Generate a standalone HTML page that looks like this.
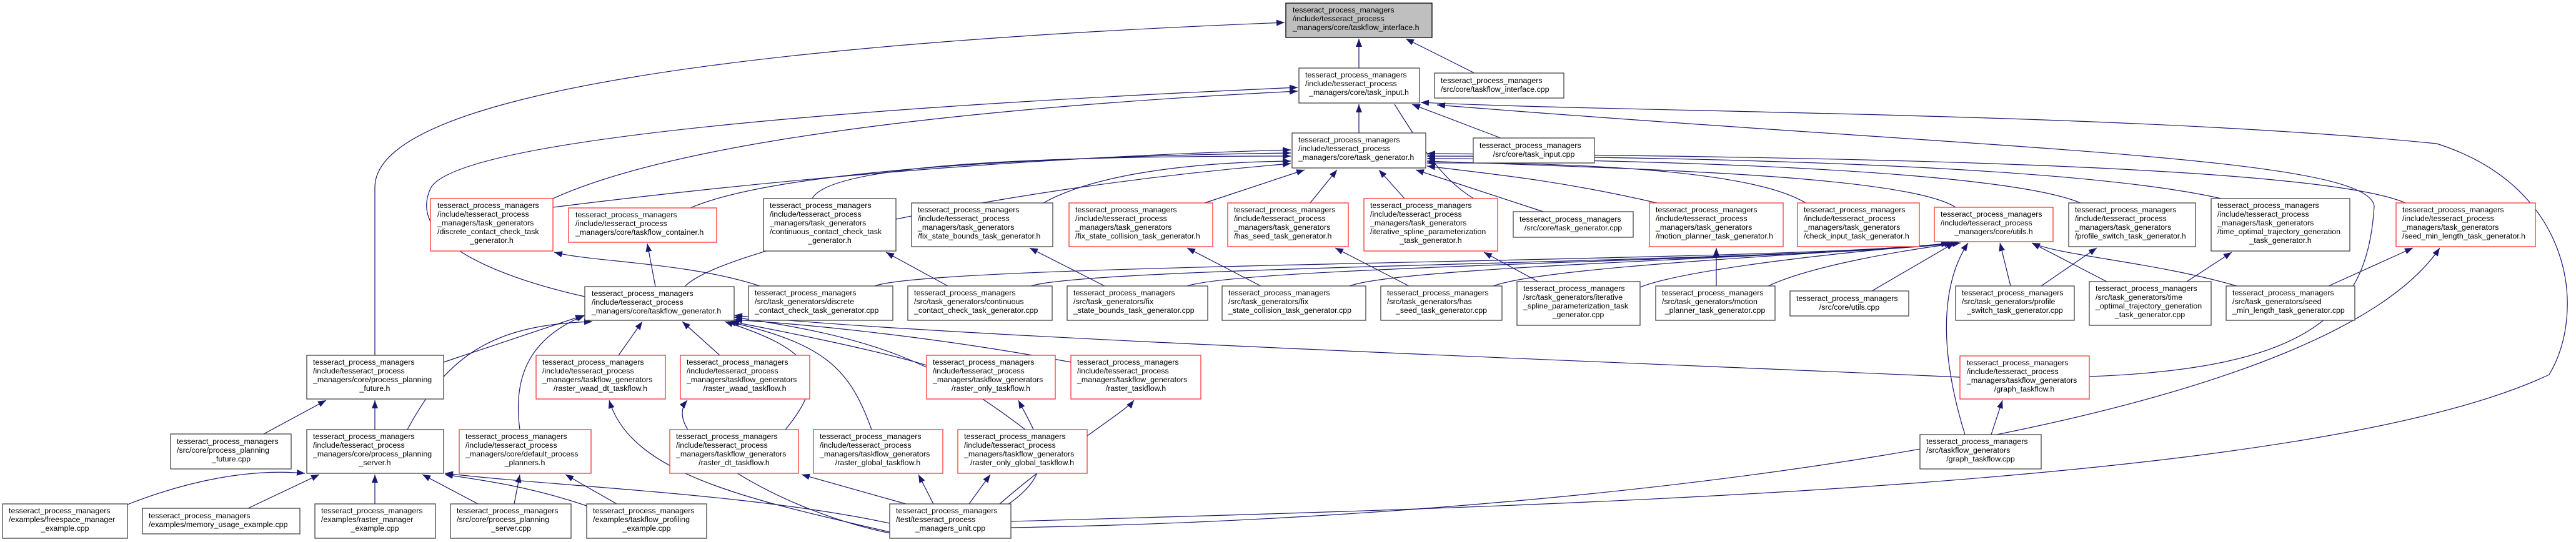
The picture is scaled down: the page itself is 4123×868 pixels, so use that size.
<!DOCTYPE html>
<html><head><meta charset="utf-8"><style>
html,body{margin:0;padding:0;background:#fff;}
svg{display:block;}
text{font-family:"Liberation Sans",sans-serif;font-size:12.4px;fill:#000;}
.n rect{fill:#fff;stroke-width:1.3;}
.k rect{stroke:#444;}
.r rect{stroke:#f33;}
.e path{fill:none;stroke:#191970;stroke-width:1.2;}
</style></head><body>
<svg width="4123" height="868" viewBox="0 0 4123 868" xmlns="http://www.w3.org/2000/svg">
<defs><marker id="a" markerUnits="userSpaceOnUse" markerWidth="14" markerHeight="10" refX="13" refY="5" orient="auto"><path d="M0,0 L13,5 L0,10 z" fill="#191970"/></marker></defs>
<g class="e" marker-end="url(#a)">
<path d="M2175,109 L2175,62"/>
<path d="M2360,117 L2250,62"/>
<path d="M600,569 L600,300 C600,150 1200,70 2056,36"/>
<path d="M2175,213 L2175,167"/>
<path d="M2402,221 L2260,167"/>
<path d="M936,475 C780,440 650,380 690,300 C740,220 1400,170 2077,140"/>
<path d="M885,318 C1100,220 1600,170 2077,146"/>
<path d="M1618,835 C2500,810 3700,780 4080,600 C4140,500 4120,300 3900,230 C3400,180 2600,180 2274,164"/>
<path d="M3344,603 C3700,590 3790,500 3800,330 C3790,250 3200,240 2300,168"/>
<path d="M2232,167 C2290,260 2320,300 2380,330"/>
<path d="M885,332 C1300,280 1700,250 2066,240"/>
<path d="M1105,333 C1250,270 1700,250 2066,245"/>
<path d="M1300,318 C1330,260 1700,250 2066,250"/>
<path d="M1670,325 C1750,280 1900,260 2066,258"/>
<path d="M1928,325 L2088,272"/>
<path d="M2097,325 L2140,272"/>
<path d="M2248,318 L2207,272"/>
<path d="M2470,339 L2266,272"/>
<path d="M2652,325 C2500,290 2400,280 2284,266"/>
<path d="M2890,325 C2800,270 2500,260 2284,261"/>
<path d="M3130,332 C3050,280 2600,270 2284,258"/>
<path d="M3330,325 C3200,270 2600,255 2284,254"/>
<path d="M3555,318 C3300,260 2600,250 2284,250"/>
<path d="M3850,325 C3700,260 2800,250 2284,246"/>
<path d="M1096,459 C1150,400 1600,300 2066,262"/>
<path d="M1049,459 L1036,390"/>
<path d="M1216,458 C1100,420 950,420 887,404"/>
<path d="M1517,458 L1418,404"/>
<path d="M1768,458 L1648,397"/>
<path d="M2018,458 L1900,397"/>
<path d="M2255,458 L2137,397"/>
<path d="M2462,451 L2375,404"/>
<path d="M2747,458 L2747,397"/>
<path d="M2996,466 L3128,389"/>
<path d="M3267,458 L3356,397"/>
<path d="M3500,451 L3572,404"/>
<path d="M3727,458 L3862,397"/>
<path d="M1400,458 C1500,420 2900,420 3120,389"/>
<path d="M1650,458 C1750,425 2900,420 3125,389"/>
<path d="M1900,458 C2000,425 2950,415 3128,389"/>
<path d="M2160,458 C2250,425 2950,410 3130,389"/>
<path d="M2390,458 C2480,425 2960,405 3132,389"/>
<path d="M2625,460 C2700,430 2980,400 3135,389"/>
<path d="M2830,458 C2900,425 3050,400 3138,389"/>
<path d="M3218,458 L3201,389"/>
<path d="M3372,451 L3252,389"/>
<path d="M3580,458 C3450,420 3300,410 3252,389"/>
<path d="M3145,696 C3100,550 3110,450 3150,389"/>
<path d="M710,580 L934,505"/>
<path d="M652,688 C720,560 800,520 948,515"/>
<path d="M832,688 C820,600 850,540 936,505"/>
<path d="M990,569 L1028,515"/>
<path d="M1152,569 L1092,515"/>
<path d="M1257,688 C1330,600 1300,560 1160,515"/>
<path d="M1395,688 C1360,590 1320,550 1165,515"/>
<path d="M1483,585 C1400,560 1250,530 1170,515"/>
<path d="M1714,580 C1500,540 1300,520 1175,512"/>
<path d="M1641,688 C1500,580 1400,540 1175,508"/>
<path d="M3137,604 C2600,580 1500,540 1175,505"/>
<path d="M422,695 L522,641"/>
<path d="M600,688 L600,641"/>
<path d="M204,808 C300,770 400,750 488,758"/>
<path d="M397,814 L511,760"/>
<path d="M600,807 L600,760"/>
<path d="M765,807 L676,760"/>
<path d="M939,810 C850,780 780,770 712,760"/>
<path d="M1424,838 C1200,790 900,780 712,758"/>
<path d="M823,807 L832,760"/>
<path d="M987,807 L905,760"/>
<path d="M1424,852 C1200,800 1010,760 975,641"/>
<path d="M1430,855 C1250,820 1050,700 1100,641"/>
<path d="M1450,807 L1283,760"/>
<path d="M1494,807 L1470,760"/>
<path d="M1551,807 L1585,760"/>
<path d="M1610,810 C1700,750 1660,700 1630,641"/>
<path d="M1600,807 C1700,720 1800,660 1815,641"/>
<path d="M1618,845 C2500,830 3700,700 3905,397"/>
<path d="M3187,696 L3205,641"/>
</g>
<g class="n" style="fill:#bfbfbf"><rect x="2058" y="5" width="234" height="55" style="fill:#bfbfbf;stroke:#000"/></g>
<g class="n k"><rect x="2079" y="109" width="193" height="56"/></g>
<g class="n k"><rect x="2296" y="117" width="207" height="40"/></g>
<g class="n k"><rect x="2068" y="213" width="214" height="56"/></g>
<g class="n k"><rect x="2358" y="221" width="194" height="40"/></g>
<g class="n r"><rect x="689" y="318" width="196" height="84"/></g>
<g class="n r"><rect x="910" y="333" width="237" height="55"/></g>
<g class="n k"><rect x="1222" y="318" width="212" height="84"/></g>
<g class="n k"><rect x="1459" y="325" width="226" height="70"/></g>
<g class="n r"><rect x="1711" y="325" width="230" height="70"/></g>
<g class="n r"><rect x="1965" y="325" width="193" height="70"/></g>
<g class="n r"><rect x="2183" y="318" width="214" height="84"/></g>
<g class="n k"><rect x="2422" y="339" width="192" height="41"/></g>
<g class="n r"><rect x="2640" y="325" width="214" height="70"/></g>
<g class="n r"><rect x="2877" y="325" width="195" height="70"/></g>
<g class="n r"><rect x="3096" y="332" width="190" height="55"/></g>
<g class="n k"><rect x="3311" y="325" width="203" height="70"/></g>
<g class="n k"><rect x="3539" y="318" width="222" height="84"/></g>
<g class="n r"><rect x="3835" y="325" width="223" height="70"/></g>
<g class="n k"><rect x="936" y="459" width="239" height="54"/></g>
<g class="n k"><rect x="1198" y="458" width="231" height="55"/></g>
<g class="n k"><rect x="1453" y="458" width="231" height="55"/></g>
<g class="n k"><rect x="1708" y="458" width="225" height="55"/></g>
<g class="n k"><rect x="1956" y="458" width="230" height="55"/></g>
<g class="n k"><rect x="2210" y="458" width="194" height="55"/></g>
<g class="n k"><rect x="2428" y="451" width="197" height="70"/></g>
<g class="n k"><rect x="2650" y="458" width="191" height="55"/></g>
<g class="n k"><rect x="2865" y="466" width="190" height="40"/></g>
<g class="n k"><rect x="3130" y="458" width="190" height="55"/></g>
<g class="n k"><rect x="3344" y="451" width="195" height="70"/></g>
<g class="n k"><rect x="3563" y="458" width="206" height="55"/></g>
<g class="n k"><rect x="491" y="569" width="219" height="70"/></g>
<g class="n r"><rect x="858" y="569" width="207" height="70"/></g>
<g class="n r"><rect x="1089" y="569" width="207" height="70"/></g>
<g class="n r"><rect x="1483" y="569" width="206" height="70"/></g>
<g class="n r"><rect x="1714" y="569" width="208" height="70"/></g>
<g class="n r"><rect x="3137" y="570" width="207" height="69"/></g>
<g class="n k"><rect x="273" y="695" width="193" height="56"/></g>
<g class="n k"><rect x="491" y="688" width="219" height="70"/></g>
<g class="n r"><rect x="735" y="688" width="211" height="70"/></g>
<g class="n r"><rect x="1072" y="688" width="206" height="70"/></g>
<g class="n r"><rect x="1302" y="688" width="207" height="70"/></g>
<g class="n r"><rect x="1533" y="688" width="207" height="70"/></g>
<g class="n k"><rect x="3073" y="696" width="194" height="55"/></g>
<g class="n k"><rect x="4" y="807" width="200" height="55"/></g>
<g class="n k"><rect x="228" y="814" width="252" height="41"/></g>
<g class="n k"><rect x="504" y="807" width="193" height="55"/></g>
<g class="n k"><rect x="721" y="807" width="193" height="55"/></g>
<g class="n k"><rect x="939" y="807" width="192" height="55"/></g>
<g class="n k"><rect x="1424" y="807" width="194" height="55"/></g>
<g>
<text x="2069" y="20">tesseract_process_managers</text><text x="2069" y="34">/include/tesseract_process</text><text x="2069" y="48">_managers/core/taskflow_interface.h</text>
<text x="2089" y="124">tesseract_process_managers</text><text x="2089" y="138">/include/tesseract_process</text><text x="2175" y="152" text-anchor="middle">_managers/core/task_input.h</text>
<text x="2306" y="133">tesseract_process_managers</text><text x="2306" y="147">/src/core/taskflow_interface.cpp</text>
<text x="2078" y="228">tesseract_process_managers</text><text x="2078" y="242">/include/tesseract_process</text><text x="2078" y="256">_managers/core/task_generator.h</text>
<text x="2368" y="237">tesseract_process_managers</text><text x="2455" y="251" text-anchor="middle">/src/core/task_input.cpp</text>
<text x="700" y="333">tesseract_process_managers</text><text x="700" y="347">/include/tesseract_process</text><text x="700" y="361">_managers/task_generators</text><text x="700" y="375">/discrete_contact_check_task</text><text x="787" y="389" text-anchor="middle">_generator.h</text>
<text x="921" y="348">tesseract_process_managers</text><text x="921" y="362">/include/tesseract_process</text><text x="921" y="376">_managers/core/taskflow_container.h</text>
<text x="1232" y="333">tesseract_process_managers</text><text x="1232" y="347">/include/tesseract_process</text><text x="1232" y="361">_managers/task_generators</text><text x="1232" y="375">/continuous_contact_check_task</text><text x="1328" y="389" text-anchor="middle">_generator.h</text>
<text x="1469" y="340">tesseract_process_managers</text><text x="1469" y="354">/include/tesseract_process</text><text x="1469" y="368">_managers/task_generators</text><text x="1469" y="382">/fix_state_bounds_task_generator.h</text>
<text x="1721" y="340">tesseract_process_managers</text><text x="1721" y="354">/include/tesseract_process</text><text x="1721" y="368">_managers/task_generators</text><text x="1721" y="382">/fix_state_collision_task_generator.h</text>
<text x="1975" y="340">tesseract_process_managers</text><text x="1975" y="354">/include/tesseract_process</text><text x="1975" y="368">_managers/task_generators</text><text x="1975" y="382">/has_seed_task_generator.h</text>
<text x="2193" y="333">tesseract_process_managers</text><text x="2193" y="347">/include/tesseract_process</text><text x="2193" y="361">_managers/task_generators</text><text x="2193" y="375">/iterative_spline_parameterization</text><text x="2290" y="389" text-anchor="middle">_task_generator.h</text>
<text x="2432" y="355">tesseract_process_managers</text><text x="2518" y="369" text-anchor="middle">/src/core/task_generator.cpp</text>
<text x="2650" y="340">tesseract_process_managers</text><text x="2650" y="354">/include/tesseract_process</text><text x="2650" y="368">_managers/task_generators</text><text x="2650" y="382">/motion_planner_task_generator.h</text>
<text x="2887" y="340">tesseract_process_managers</text><text x="2887" y="354">/include/tesseract_process</text><text x="2887" y="368">_managers/task_generators</text><text x="2887" y="382">/check_input_task_generator.h</text>
<text x="3106" y="347">tesseract_process_managers</text><text x="3106" y="361">/include/tesseract_process</text><text x="3191" y="375" text-anchor="middle">_managers/core/utils.h</text>
<text x="3321" y="340">tesseract_process_managers</text><text x="3321" y="354">/include/tesseract_process</text><text x="3321" y="368">_managers/task_generators</text><text x="3321" y="382">/profile_switch_task_generator.h</text>
<text x="3549" y="333">tesseract_process_managers</text><text x="3549" y="347">/include/tesseract_process</text><text x="3549" y="361">_managers/task_generators</text><text x="3549" y="375">/time_optimal_trajectory_generation</text><text x="3650" y="389" text-anchor="middle">_task_generator.h</text>
<text x="3845" y="340">tesseract_process_managers</text><text x="3845" y="354">/include/tesseract_process</text><text x="3845" y="368">_managers/task_generators</text><text x="3845" y="382">/seed_min_length_task_generator.h</text>
<text x="947" y="474">tesseract_process_managers</text><text x="947" y="488">/include/tesseract_process</text><text x="947" y="502">_managers/core/taskflow_generator.h</text>
<text x="1208" y="473">tesseract_process_managers</text><text x="1208" y="487">/src/task_generators/discrete</text><text x="1208" y="501">_contact_check_task_generator.cpp</text>
<text x="1463" y="473">tesseract_process_managers</text><text x="1463" y="487">/src/task_generators/continuous</text><text x="1463" y="501">_contact_check_task_generator.cpp</text>
<text x="1718" y="473">tesseract_process_managers</text><text x="1718" y="487">/src/task_generators/fix</text><text x="1718" y="501">_state_bounds_task_generator.cpp</text>
<text x="1966" y="473">tesseract_process_managers</text><text x="1966" y="487">/src/task_generators/fix</text><text x="1966" y="501">_state_collision_task_generator.cpp</text>
<text x="2220" y="473">tesseract_process_managers</text><text x="2220" y="487">/src/task_generators/has</text><text x="2307" y="501" text-anchor="middle">_seed_task_generator.cpp</text>
<text x="2438" y="466">tesseract_process_managers</text><text x="2438" y="480">/src/task_generators/iterative</text><text x="2438" y="494">_spline_parameterization_task</text><text x="2526" y="508" text-anchor="middle">_generator.cpp</text>
<text x="2660" y="473">tesseract_process_managers</text><text x="2660" y="487">/src/task_generators/motion</text><text x="2745" y="501" text-anchor="middle">_planner_task_generator.cpp</text>
<text x="2875" y="482">tesseract_process_managers</text><text x="2960" y="496" text-anchor="middle">/src/core/utils.cpp</text>
<text x="3140" y="473">tesseract_process_managers</text><text x="3140" y="487">/src/task_generators/profile</text><text x="3225" y="501" text-anchor="middle">_switch_task_generator.cpp</text>
<text x="3354" y="466">tesseract_process_managers</text><text x="3354" y="480">/src/task_generators/time</text><text x="3354" y="494">_optimal_trajectory_generation</text><text x="3441" y="508" text-anchor="middle">_task_generator.cpp</text>
<text x="3573" y="473">tesseract_process_managers</text><text x="3573" y="487">/src/task_generators/seed</text><text x="3573" y="501">_min_length_task_generator.cpp</text>
<text x="501" y="584">tesseract_process_managers</text><text x="501" y="598">/include/tesseract_process</text><text x="501" y="612">_managers/core/process_planning</text><text x="600" y="626" text-anchor="middle">_future.h</text>
<text x="868" y="584">tesseract_process_managers</text><text x="868" y="598">/include/tesseract_process</text><text x="868" y="612">_managers/taskflow_generators</text><text x="961" y="626" text-anchor="middle">/raster_waad_dt_taskflow.h</text>
<text x="1099" y="584">tesseract_process_managers</text><text x="1099" y="598">/include/tesseract_process</text><text x="1099" y="612">_managers/taskflow_generators</text><text x="1192" y="626" text-anchor="middle">/raster_waad_taskflow.h</text>
<text x="1493" y="584">tesseract_process_managers</text><text x="1493" y="598">/include/tesseract_process</text><text x="1493" y="612">_managers/taskflow_generators</text><text x="1586" y="626" text-anchor="middle">/raster_only_taskflow.h</text>
<text x="1724" y="584">tesseract_process_managers</text><text x="1724" y="598">/include/tesseract_process</text><text x="1724" y="612">_managers/taskflow_generators</text><text x="1818" y="626" text-anchor="middle">/raster_taskflow.h</text>
<text x="3148" y="585">tesseract_process_managers</text><text x="3148" y="599">/include/tesseract_process</text><text x="3148" y="613">_managers/taskflow_generators</text><text x="3240" y="627" text-anchor="middle">/graph_taskflow.h</text>
<text x="283" y="711">tesseract_process_managers</text><text x="283" y="725">/src/core/process_planning</text><text x="370" y="739" text-anchor="middle">_future.cpp</text>
<text x="501" y="703">tesseract_process_managers</text><text x="501" y="717">/include/tesseract_process</text><text x="501" y="731">_managers/core/process_planning</text><text x="600" y="745" text-anchor="middle">_server.h</text>
<text x="745" y="703">tesseract_process_managers</text><text x="745" y="717">/include/tesseract_process</text><text x="745" y="731">_managers/core/default_process</text><text x="840" y="745" text-anchor="middle">_planners.h</text>
<text x="1082" y="703">tesseract_process_managers</text><text x="1082" y="717">/include/tesseract_process</text><text x="1082" y="731">_managers/taskflow_generators</text><text x="1175" y="745" text-anchor="middle">/raster_dt_taskflow.h</text>
<text x="1312" y="703">tesseract_process_managers</text><text x="1312" y="717">/include/tesseract_process</text><text x="1312" y="731">_managers/taskflow_generators</text><text x="1405" y="745" text-anchor="middle">/raster_global_taskflow.h</text>
<text x="1543" y="703">tesseract_process_managers</text><text x="1543" y="717">/include/tesseract_process</text><text x="1543" y="731">_managers/taskflow_generators</text><text x="1636" y="745" text-anchor="middle">/raster_only_global_taskflow.h</text>
<text x="3083" y="711">tesseract_process_managers</text><text x="3083" y="725">/src/taskflow_generators</text><text x="3170" y="739" text-anchor="middle">/graph_taskflow.cpp</text>
<text x="14" y="822">tesseract_process_managers</text><text x="14" y="836">/examples/freespace_manager</text><text x="104" y="850" text-anchor="middle">_example.cpp</text>
<text x="238" y="830">tesseract_process_managers</text><text x="238" y="844">/examples/memory_usage_example.cpp</text>
<text x="514" y="822">tesseract_process_managers</text><text x="514" y="836">/examples/raster_manager</text><text x="600" y="850" text-anchor="middle">_example.cpp</text>
<text x="731" y="822">tesseract_process_managers</text><text x="731" y="836">/src/core/process_planning</text><text x="818" y="850" text-anchor="middle">_server.cpp</text>
<text x="949" y="822">tesseract_process_managers</text><text x="949" y="836">/examples/taskflow_profiling</text><text x="1035" y="850" text-anchor="middle">_example.cpp</text>
<text x="1434" y="822">tesseract_process_managers</text><text x="1434" y="836">/test/tesseract_process</text><text x="1521" y="850" text-anchor="middle">_managers_unit.cpp</text>
</g>
</svg>
</body></html>
